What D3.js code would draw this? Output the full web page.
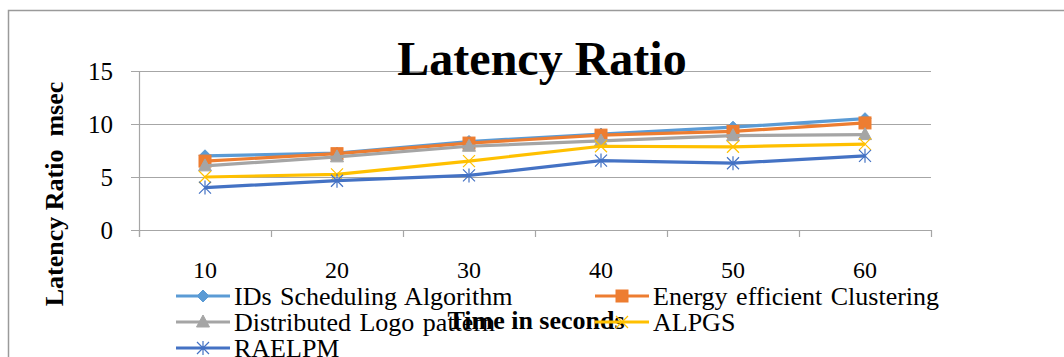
<!DOCTYPE html>
<html>
<head>
<meta charset="utf-8">
<script src="https://cdn.jsdelivr.net/npm/d3@7"></script>
<style>
  html, body { margin: 0; padding: 0; background: #fff; }
  svg text { font-family: "Liberation Serif", "Times New Roman", "DejaVu Serif", serif; }
</style>
</head>
<body>
<svg id="chart" width="1064" height="357"></svg>
<script>
// Time in seconds (categories)
const categories = ["10", "20", "30", "40", "50", "60"];
// Latency ratio (msec) per series
const idsScheduling = [7.0, 7.25, 8.35, 9.05, 9.7, 10.5];
const energyClustering = [6.5, 7.2, 8.2, 8.95, 9.3, 10.1];
const logoPattern = [6.05, 6.9, 7.9, 8.4, 8.9, 9.0];
const alpgs = [5.0, 5.25, 6.5, 7.9, 7.85, 8.1];
const raelpm = [4.0, 4.65, 5.15, 6.55, 6.3, 7.0];
const yTicks = [0, 5, 10, 15];

const seriesNames = ["IDs Scheduling Algorithm", "Energy efficient Clustering",
  "Distributed Logo pattern", "ALPGS", "RAELPM"];
const seriesData = [idsScheduling, energyClustering, logoPattern, alpgs, raelpm];
const seriesColors = ["#5B9BD5", "#ED7D31", "#A5A5A5", "#FFC000", "#4472C4"];
const seriesMarkers = ["diamond", "square", "triangle", "cross", "asterisk"];

const FONT = "Liberation Serif, Times New Roman, DejaVu Serif, serif";
const svg = d3.select("#chart");
const plot = { left: 139, right: 931, top: 71, bottom: 230 };

const x = d3.scaleBand().domain(categories).range([plot.left, plot.right]);
const y = d3.scaleLinear().domain([0, 15]).range([plot.bottom, plot.top]);
const gridColor = "#a6a6a6";

// Outer chart frame
svg.append("rect")
  .attr("x", 8.5).attr("y", 10.5)
  .attr("width", 1100).attr("height", 400)
  .attr("fill", "none").attr("stroke", "#9a9a9a").attr("stroke-width", 1.5);

// Horizontal gridlines
svg.append("g")
  .selectAll("line")
  .data(yTicks)
  .join("line")
  .attr("x1", plot.left - 8).attr("x2", plot.right)
  .attr("y1", d => Math.round(y(d)) + 0.5).attr("y2", d => Math.round(y(d)) + 0.5)
  .attr("stroke", gridColor).attr("stroke-width", 1.2);

// Y axis line
svg.append("line")
  .attr("x1", plot.left + 0.5).attr("x2", plot.left + 0.5)
  .attr("y1", plot.top).attr("y2", plot.bottom + 7)
  .attr("stroke", gridColor).attr("stroke-width", 1.2);

// X axis category tick marks at band edges
const edges = categories.map(c => x(c)).concat([plot.right]);
svg.append("g")
  .selectAll("line")
  .data(edges)
  .join("line")
  .attr("x1", d => Math.round(d) + 0.5).attr("x2", d => Math.round(d) + 0.5)
  .attr("y1", plot.bottom).attr("y2", plot.bottom + 7)
  .attr("stroke", gridColor).attr("stroke-width", 1.2);

// Y tick labels
svg.append("g")
  .selectAll("text")
  .data(yTicks)
  .join("text")
  .attr("x", 113).attr("y", d => y(d))
  .attr("dy", "0.35em")
  .attr("text-anchor", "end")
  .attr("font-family", FONT)
  .attr("font-size", 25)
  .attr("fill", "#000")
  .text(d => d);

// X tick labels
svg.append("g")
  .selectAll("text")
  .data(categories)
  .join("text")
  .attr("x", d => x(d) + x.bandwidth() / 2)
  .attr("y", 278)
  .attr("text-anchor", "middle")
  .attr("font-family", FONT)
  .attr("font-size", 24)
  .attr("fill", "#000")
  .text(d => d);

// Title
svg.append("text")
  .attr("x", 542).attr("y", 75)
  .attr("text-anchor", "middle")
  .attr("font-family", FONT)
  .attr("font-size", 48)
  .attr("font-weight", "bold")
  .attr("fill", "#000")
  .text("Latency Ratio");

// Y axis title
svg.append("text")
  .attr("transform", "translate(63,194) rotate(-90)")
  .attr("text-anchor", "middle")
  .attr("font-family", FONT)
  .attr("font-size", 26)
  .attr("font-weight", "bold")
  .attr("fill", "#000")
  .style("white-space", "pre")
  .text("Latency Ratio  msec");

// X axis title
svg.append("text")
  .attr("x", 536).attr("y", 329)
  .attr("text-anchor", "middle")
  .attr("font-family", FONT)
  .attr("font-size", 26)
  .attr("font-weight", "bold")
  .attr("fill", "#000")
  .text("Time in seconds");

// Marker drawing helper
function drawMarker(g, type, color, cx, cy) {
  if (type === "diamond") {
    g.append("path")
      .attr("d", `M${cx},${cy - 6}L${cx + 6},${cy}L${cx},${cy + 6}L${cx - 6},${cy}Z`)
      .attr("fill", color).attr("stroke", color).attr("stroke-width", 1);
  } else if (type === "square") {
    g.append("rect")
      .attr("x", cx - 6).attr("y", cy - 6).attr("width", 12).attr("height", 12)
      .attr("fill", color).attr("stroke", color).attr("stroke-width", 1);
  } else if (type === "triangle") {
    g.append("path")
      .attr("d", `M${cx},${cy - 7}L${cx + 6.5},${cy + 5}L${cx - 6.5},${cy + 5}Z`)
      .attr("fill", color).attr("stroke", color).attr("stroke-width", 1);
  } else if (type === "cross") {
    const r = 6;
    g.append("path")
      .attr("d", `M${cx - r},${cy - r}L${cx + r},${cy + r}M${cx - r},${cy + r}L${cx + r},${cy - r}`)
      .attr("fill", "none").attr("stroke", color).attr("stroke-width", 1.2);
  } else if (type === "asterisk") {
    const r = 6;
    g.append("path")
      .attr("d", `M${cx - r},${cy - r}L${cx + r},${cy + r}M${cx - r},${cy + r}L${cx + r},${cy - r}M${cx},${cy - r - 1}L${cx},${cy + r + 1}`)
      .attr("fill", "none").attr("stroke", color).attr("stroke-width", 1.2);
  }
}

// Series lines and markers
const line = d3.line()
  .x((d, i) => x(categories[i]) + x.bandwidth() / 2)
  .y(d => y(d));

seriesData.forEach((vals, s) => {
  const g = svg.append("g");
  g.append("path")
    .datum(vals)
    .attr("d", line)
    .attr("fill", "none")
    .attr("stroke", seriesColors[s])
    .attr("stroke-width", 3.2)
    .attr("stroke-linejoin", "round");
  vals.forEach((v, i) => {
    drawMarker(g, seriesMarkers[s], seriesColors[s],
      x(categories[i]) + x.bandwidth() / 2, y(v));
  });
});

// Legend (two columns, three rows)
const legendPos = [
  { x: 176, y: 296 }, { x: 595, y: 296 },
  { x: 176, y: 322 }, { x: 595, y: 322 },
  { x: 176, y: 348 }
];
seriesNames.forEach((name, s) => {
  const p = legendPos[s];
  const g = svg.append("g");
  g.append("line")
    .attr("x1", p.x).attr("x2", p.x + 54)
    .attr("y1", p.y).attr("y2", p.y)
    .attr("stroke", seriesColors[s]).attr("stroke-width", 3.2);
  drawMarker(g, seriesMarkers[s], seriesColors[s], p.x + 27, p.y);
  g.append("text")
    .attr("x", p.x + 58).attr("y", p.y)
    .attr("dy", "0.35em")
    .attr("font-family", FONT)
    .attr("font-size", 26)
    .attr("word-spacing", 2)
    .attr("fill", "#000")
    .text(name);
});
</script>
</body>
</html>
